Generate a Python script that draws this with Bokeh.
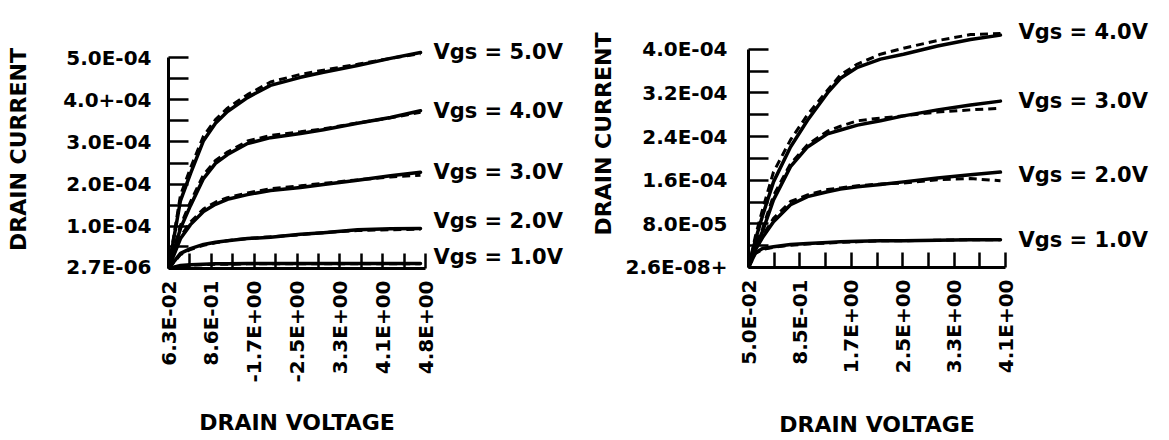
import numpy as np
from bokeh.plotting import figure
from bokeh.layouts import row
from bokeh.models import Range1d, FixedTicker, CustomJSTickFormatter, LinearAxis, Plot
from bokeh.embed import file_html
from bokeh.resources import INLINE

FONT = "DejaVu Sans"

# ---------------- left panel data ----------------
l_x = [0.063, 0.284, 0.468, 0.708, 0.929, 1.150, 1.519, 1.943, 2.496, 2.920, 3.547, 4.155, 4.708]
l_vgs5_meas = [0, 1.61e-4, 2.25e-4, 3.03e-4, 3.44e-4, 3.72e-4, 4.05e-4, 4.34e-4, 4.53e-4, 4.65e-4, 4.81e-4, 4.98e-4, 5.12e-4]
l_vgs5_sim = [0, 1.74e-4, 2.38e-4, 3.14e-4, 3.53e-4, 3.80e-4, 4.12e-4, 4.42e-4, 4.60e-4, 4.70e-4, 4.84e-4, 4.98e-4, 5.09e-4]
l_vgs4_meas = [0, 0.95e-4, 1.49e-4, 2.13e-4, 2.49e-4, 2.70e-4, 2.96e-4, 3.10e-4, 3.20e-4, 3.29e-4, 3.44e-4, 3.58e-4, 3.74e-4]
l_vgs4_sim = [0, 1.02e-4, 1.58e-4, 2.22e-4, 2.56e-4, 2.76e-4, 3.02e-4, 3.15e-4, 3.24e-4, 3.31e-4, 3.45e-4, 3.57e-4, 3.70e-4]
l_vgs3_meas = [0, 0.71e-4, 1.04e-4, 1.35e-4, 1.52e-4, 1.64e-4, 1.75e-4, 1.85e-4, 1.92e-4, 1.99e-4, 2.09e-4, 2.20e-4, 2.28e-4]
l_vgs3_sim = [0, 0.76e-4, 1.10e-4, 1.41e-4, 1.57e-4, 1.68e-4, 1.79e-4, 1.89e-4, 1.96e-4, 2.02e-4, 2.10e-4, 2.17e-4, 2.21e-4]
l_vgs2_meas = [0, 0.36e-4, 0.47e-4, 0.57e-4, 0.62e-4, 0.66e-4, 0.71e-4, 0.74e-4, 0.81e-4, 0.85e-4, 0.92e-4, 0.94e-4, 0.95e-4]
l_vgs2_sim = [0, 0.33e-4, 0.45e-4, 0.55e-4, 0.61e-4, 0.66e-4, 0.71e-4, 0.75e-4, 0.80e-4, 0.85e-4, 0.90e-4, 0.92e-4, 0.93e-4]
l_vgs1_meas = [0, 0.07e-4, 0.09e-4, 0.10e-4, 0.11e-4, 0.11e-4, 0.12e-4, 0.12e-4, 0.12e-4, 0.12e-4, 0.12e-4, 0.12e-4, 0.12e-4]
l_vgs1_sim = [0, 0.06e-4, 0.08e-4, 0.09e-4, 0.10e-4, 0.10e-4, 0.11e-4, 0.11e-4, 0.11e-4, 0.11e-4, 0.11e-4, 0.11e-4, 0.11e-4]
l_curve_labels = ["Vgs = 5.0V", "Vgs = 4.0V", "Vgs = 3.0V", "Vgs = 2.0V", "Vgs = 1.0V"]
l_xtick_labels = ["6.3E-02", "8.6E-01", "-1.7E+00", "-2.5E+00", "3.3E+00", "4.1E+00", "4.8E+00"]
l_ytick_vals = [2.7e-6, 1.0e-4, 2.0e-4, 3.0e-4, 4.0e-4, 5.0e-4]
l_ytick_labels = ["2.7E-06", "1.0E-04", "2.0E-04", "3.0E-04", "4.0+-04", "5.0E-04"]

# ---------------- right panel data ----------------
r_x = [0.05, 0.160, 0.271, 0.444, 0.712, 0.980, 1.295, 1.500, 1.768, 2.130, 2.493, 3.029, 3.548, 4.021]
r_vgs4_meas = [0, 0.51e-4, 0.95e-4, 1.57e-4, 2.21e-4, 2.70e-4, 3.20e-4, 3.47e-4, 3.67e-4, 3.82e-4, 3.91e-4, 4.06e-4, 4.18e-4, 4.26e-4]
r_vgs4_sim = [0, 0.58e-4, 1.06e-4, 1.75e-4, 2.34e-4, 2.80e-4, 3.25e-4, 3.53e-4, 3.73e-4, 3.91e-4, 4.02e-4, 4.16e-4, 4.27e-4, 4.29e-4]
r_vgs3_meas = [0, 0.37e-4, 0.66e-4, 1.24e-4, 1.85e-4, 2.21e-4, 2.45e-4, 2.52e-4, 2.61e-4, 2.69e-4, 2.78e-4, 2.89e-4, 2.98e-4, 3.05e-4]
r_vgs3_sim = [0, 0.40e-4, 0.71e-4, 1.32e-4, 1.90e-4, 2.25e-4, 2.50e-4, 2.59e-4, 2.69e-4, 2.74e-4, 2.78e-4, 2.85e-4, 2.89e-4, 2.92e-4]
r_vgs2_meas = [0, 0.33e-4, 0.55e-4, 0.84e-4, 1.15e-4, 1.30e-4, 1.39e-4, 1.44e-4, 1.48e-4, 1.52e-4, 1.57e-4, 1.64e-4, 1.70e-4, 1.75e-4]
r_vgs2_sim = [0, 0.35e-4, 0.58e-4, 0.90e-4, 1.21e-4, 1.33e-4, 1.43e-4, 1.46e-4, 1.50e-4, 1.53e-4, 1.55e-4, 1.61e-4, 1.63e-4, 1.59e-4]
r_vgs1_meas = [0, 0.27e-4, 0.35e-4, 0.38e-4, 0.42e-4, 0.44e-4, 0.46e-4, 0.47e-4, 0.48e-4, 0.49e-4, 0.49e-4, 0.50e-4, 0.51e-4, 0.51e-4]
r_vgs1_sim = [0, 0.26e-4, 0.33e-4, 0.37e-4, 0.41e-4, 0.43e-4, 0.45e-4, 0.46e-4, 0.47e-4, 0.49e-4, 0.49e-4, 0.50e-4, 0.51e-4, 0.51e-4]
r_curve_labels = ["Vgs = 4.0V", "Vgs = 3.0V", "Vgs = 2.0V", "Vgs = 1.0V"]
r_xtick_labels = ["5.0E-02", "8.5E-01", "1.7E+00", "2.5E+00", "3.3E+00", "4.1E+00"]
r_ytick_vals = [2.6e-8, 8.0e-5, 1.6e-4, 2.4e-4, 3.2e-4, 4.0e-4]
r_ytick_labels = ["2.6E-08+", "8.0E-05", "1.6E-04", "2.4E-04", "3.2E-04", "4.0E-04"]

X_TITLE = "DRAIN VOLTAGE"
Y_TITLE = "DRAIN CURRENT"

FMT_CODE = """
let b = 0, bd = Infinity;
for (let i = 0; i < vals.length; i++) {
  const d = Math.abs(vals[i] - tick);
  if (d < bd) { bd = d; b = i; }
}
return labels[b];
"""

HAS_FRAME_ALIGN = "frame_align" in Plot.properties()
FRAME_BOTTOM = 268
LEFT_TOP = 30 if HAS_FRAME_ALIGN else 22
RIGHT_TOP = 0 if HAS_FRAME_ALIGN else 22


def midpoints(v):
    return [(v[i] + v[i + 1]) / 2 for i in range(len(v) - 1)]


def style_text(ax, size="20px"):
    ax.major_label_text_font = FONT
    ax.major_label_text_font_style = "bold"
    ax.major_label_text_font_size = size
    ax.major_label_text_color = "black"


def build_panel(width, fl, fr, ft, xlo, xhi, x_major, x_labels,
                y_major, y_labels, ytop_px, ylab_standoff,
                xs, meas, sims, curve_labels, lab_standoff, lab_dy,
                ytitle_standoff, xtitle_standoff):
    fb = FRAME_BOTTOM
    ytop = y_major[-1]
    y_per_px = ytop / (fb - ytop_px)
    y_end = (fb - ft) * y_per_px
    eps = 1e-9
    p = figure(width=width, height=440, output_backend="svg", toolbar_location=None,
               x_range=Range1d(xlo - eps, xhi + eps), y_range=Range1d(0, y_end),
               min_border_left=fl, min_border_right=width - fr,
               min_border_top=ft, min_border_bottom=440 - fb)
    if HAS_FRAME_ALIGN:
        p.frame_align = False
    p.outline_line_color = None
    p.grid.visible = False
    p.background_fill_color = "white"
    p.border_fill_color = "white"

    for ax in (p.xaxis[0], p.yaxis[0]):
        ax.axis_line_width = 3
        ax.axis_line_color = "black"
        ax.major_tick_line_width = 2.5
        ax.minor_tick_line_width = 2.5
        ax.major_tick_line_color = "black"
        ax.minor_tick_line_color = "black"
        ax.major_tick_out = 0
        ax.minor_tick_out = 0
        style_text(ax)
        ax.axis_label_text_font = FONT
        ax.axis_label_text_font_style = "bold"
        ax.axis_label_text_font_size = "22px"
        ax.axis_label_text_color = "black"

    xa = p.xaxis[0]
    xa.ticker = FixedTicker(ticks=x_major, minor_ticks=midpoints(x_major))
    xa.formatter = CustomJSTickFormatter(args=dict(vals=x_major, labels=x_labels), code=FMT_CODE)
    xa.major_tick_in = 15
    xa.minor_tick_in = 15
    xa.major_label_orientation = np.pi / 2
    xa.major_label_standoff = 12
    xa.bounds = (xlo, xhi)
    xa.axis_label = X_TITLE
    xa.axis_label_standoff = xtitle_standoff

    ya = p.yaxis[0]
    ya.ticker = FixedTicker(ticks=y_major, minor_ticks=midpoints(y_major))
    ya.formatter = CustomJSTickFormatter(args=dict(vals=y_major, labels=y_labels), code=FMT_CODE)
    ya.major_tick_in = 20
    ya.minor_tick_in = 20
    ya.major_label_standoff = ylab_standoff
    ya.bounds = (0, ytop)
    ya.axis_label = Y_TITLE
    ya.axis_label_standoff = ytitle_standoff

    for m in meas:
        p.line(xs, m, line_width=3.5, line_color="black", line_join="round", line_cap="round")
    for s in sims:
        p.line(xs, s, line_width=3, line_color="black", line_dash="8 5")

    # curve labels: an unlined axis on the right whose ticks sit at each curve's end
    anchors = [m[-1] + dy * y_per_px for m, dy in zip(meas, lab_dy)]
    lab_axis = LinearAxis(
        ticker=FixedTicker(ticks=anchors, minor_ticks=[]),
        formatter=CustomJSTickFormatter(args=dict(vals=anchors, labels=curve_labels), code=FMT_CODE),
        axis_line_color=None, major_tick_line_color=None, minor_tick_line_color=None,
        major_tick_out=0, major_tick_in=0, minor_tick_out=0, minor_tick_in=0,
        major_label_standoff=lab_standoff)
    style_text(lab_axis, "21px")
    p.add_layout(lab_axis, "right")
    return p


l_xticks = list(np.linspace(0.063, 4.8, len(l_xtick_labels)))
r_xticks = list(np.linspace(0.05, 4.1, len(r_xtick_labels)))

p_left = build_panel(
    584, 168, 425, LEFT_TOP, 0.063, 4.8, l_xticks, l_xtick_labels,
    l_ytick_vals, l_ytick_labels, 57, 17,
    l_x,
    [l_vgs5_meas, l_vgs4_meas, l_vgs3_meas, l_vgs2_meas, l_vgs1_meas],
    [l_vgs5_sim, l_vgs4_sim, l_vgs3_sim, l_vgs2_sim, l_vgs1_sim],
    l_curve_labels, 8, [0, 0, 0, 7, 6],
    29, 25)

p_right = build_panel(
    585, 164, 421, RIGHT_TOP, 0.05, 4.1, r_xticks, r_xtick_labels,
    r_ytick_vals, r_ytick_labels, 49, 21,
    r_x,
    [r_vgs4_meas, r_vgs3_meas, r_vgs2_meas, r_vgs1_meas],
    [r_vgs4_sim, r_vgs3_sim, r_vgs2_sim, r_vgs1_sim],
    r_curve_labels, 13, [3, 0, -3, 0],
    7, 36)

layout = row(p_left, p_right)
open("out.html", "w").write(file_html(layout, INLINE))
